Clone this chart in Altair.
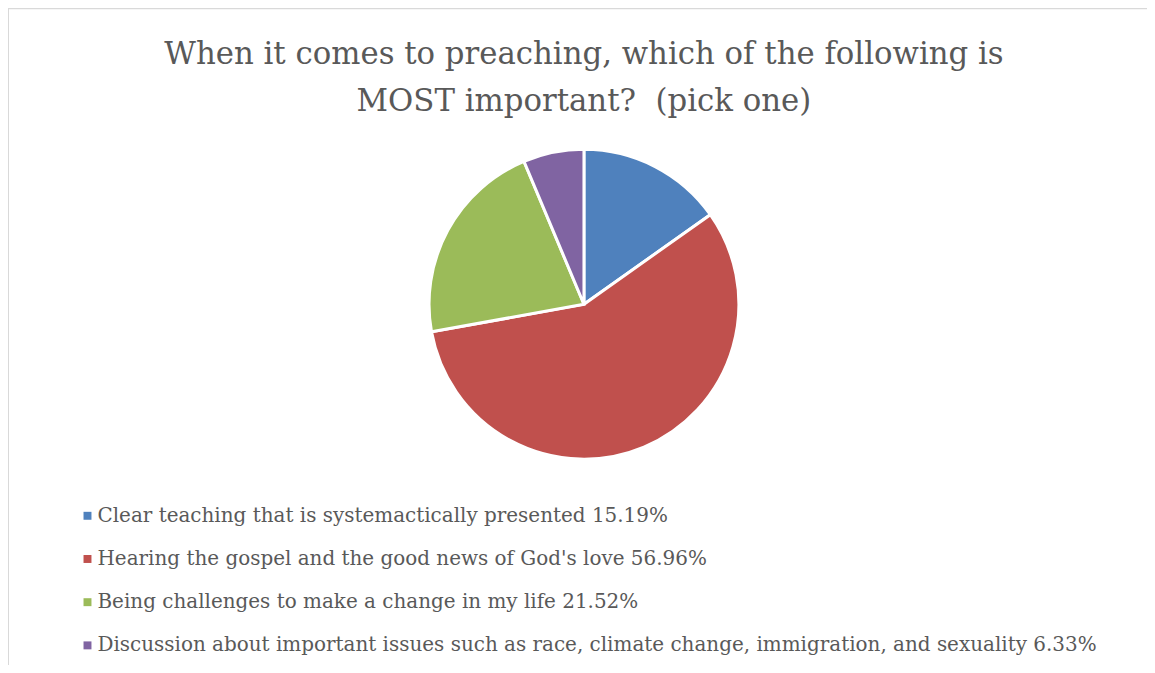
import altair as alt
import pandas as pd

title_lines = [
    "When it comes to preaching, which of the following is",
    "MOST important?\u00a0 (pick one)",
]
categories = [
    "Clear teaching that is systemactically presented",
    "Hearing the gospel and the good news of God's love",
    "Being challenges to make a change in my life",
    "Discussion about important issues such as race, climate change, immigration, and sexuality",
]
percents = [15.19, 56.96, 21.52, 6.33]
colors = ["#4f81bd", "#c0504d", "#9bbb59", "#8064a2"]

labels = [f"{c} {p:.2f}%" for c, p in zip(categories, percents)]
df = pd.DataFrame({"label": labels, "value": percents, "order": list(range(len(labels)))})

FONT = "DejaVu Serif"
W, H = 1147, 657
CX = 580

pie = (
    alt.Chart(df)
    .mark_arc(outerRadius=156, stroke="white", strokeWidth=3)
    .encode(
        theta=alt.Theta("value:Q", stack=True),
        order=alt.Order("order:Q"),
        color=alt.Color(
            "label:N",
            sort=labels,
            scale=alt.Scale(domain=labels, range=colors),
            legend=alt.Legend(
                title=None,
                orient="none",
                legendX=70,
                legendY=499,
                symbolType="square",
                symbolSize=64,
                symbolStrokeWidth=0,
                labelFont=FONT,
                labelFontSize=20.1,
                labelColor="#595959",
                labelLimit=1200,
                labelOffset=0,
                rowPadding=22.5,
            ),
        ),
        x=alt.value(CX),
        y=alt.value(296),
    )
)

title1 = (
    alt.Chart(pd.DataFrame({"t": [title_lines[0]]}))
    .mark_text(font=FONT, fontSize=31, color="#595959", align="center", baseline="alphabetic")
    .encode(text="t:N", x=alt.value(CX), y=alt.value(54))
)
title2 = (
    alt.Chart(pd.DataFrame({"t": [title_lines[1]]}))
    .mark_text(font=FONT, fontSize=31, color="#595959", align="center", baseline="alphabetic")
    .encode(text="t:N", x=alt.value(CX), y=alt.value(101))
)

border_left = (
    alt.Chart(pd.DataFrame({"a": [0]}))
    .mark_rule(color="#d9d9d9", strokeWidth=2)
    .encode(x=alt.value(0), y=alt.value(-2), y2=alt.value(H + 10))
)
border_top = (
    alt.Chart(pd.DataFrame({"a": [0]}))
    .mark_rule(color="#d9d9d9", strokeWidth=2)
    .encode(y=alt.value(-2), x=alt.value(0), x2=alt.value(W + 10))
)

chart = (
    alt.layer(pie, title1, title2, border_left, border_top)
    .properties(
        width=W,
        height=H,
        autosize=alt.AutoSizeParams(type="none"),
        padding={"left": 0, "top": 0, "right": 0, "bottom": 0},
    )
    .configure_view(stroke=None)
)

chart.save("out.html", embed_options={"renderer": "svg", "actions": False})
